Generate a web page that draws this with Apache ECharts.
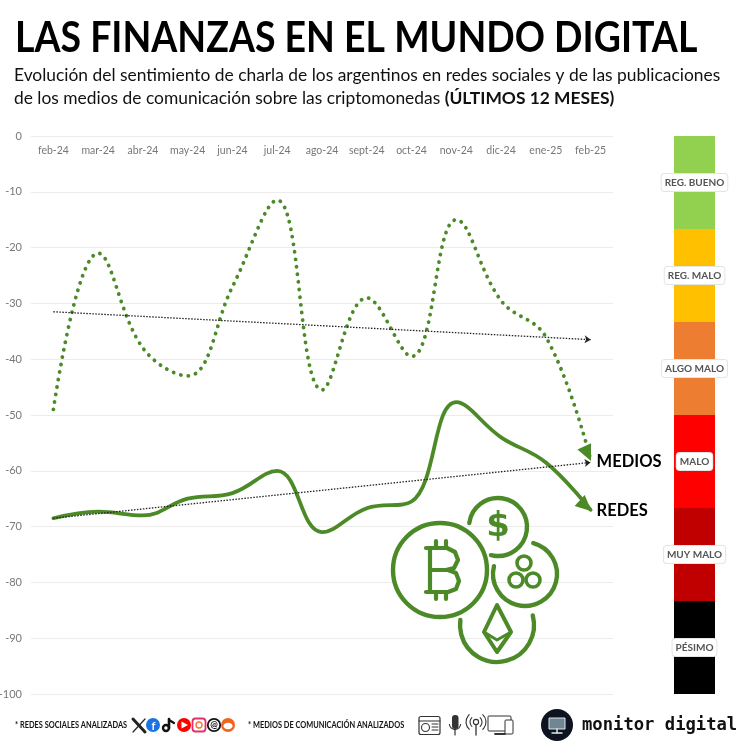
<!DOCTYPE html>
<html><head><meta charset="utf-8">
<style>html,body{margin:0;padding:0;background:#fff}#c{width:750px;height:750px}</style>
<script src="https://cdn.jsdelivr.net/npm/echarts@6/dist/echarts.min.js"></script>
</head><body><div id="c"></div>
<script>
const months = ['feb-24','mar-24','abr-24','may-24','jun-24','jul-24','ago-24','sept-24','oct-24','nov-24','dic-24','ene-25','feb-25'];
const medios = [-49,-21,-38,-43,-27,-11.5,-45.5,-29,-39.5,-15,-29.5,-36,-58];
const redes = [-68.5,-67.3,-68,-65,-64,-60,-71,-66.7,-65.5,-47.7,-54,-58.5,-67];
const trendMedios = [-31.5,-36.5];
const trendRedes = [-68.5,-58.5];
const bandNames = ['REG. BUENO','REG. MALO','ALGO MALO','MALO','MUY MALO','PÉSIMO'];
const bandValues = [-16.67,-16.67,-16.66,-16.67,-16.67,-16.66];
const bandColors = ['#92D050','#FFC000','#ED7D31','#FF0000','#C00000','#000000'];
const G = '#4C8A28', F = 'Lato, "Open Sans", sans-serif';

function pts(vals, arrowRot, off){
  return vals.map((v,i)=> i===vals.length-1
    ? {value:v, symbol:'triangle', symbolSize:[15,16], symbolRotate:arrowRot, symbolOffset:off, itemStyle:{color:G,opacity:1}}
    : {value:v, symbol:'none'});
}
function trend(name, vals){
  return {type:'line', name, silent:true, data:[], markLine:{silent:true, symbol:['none','arrow'], symbolSize:6,
    lineStyle:{color:'#222',type:[1.5,1.5],width:1.3}, label:{show:false},
    data:[[{coord:[months[0],vals[0]]},{coord:[months[12],vals[1]]}]]}};
}
const deg=Math.PI/180;
const ring=(cx,cy,r,s,e)=>({type:'arc',shape:{cx,cy,r,startAngle:s*deg,endAngle:e*deg,clockwise:true},
  style:{stroke:G,lineWidth:4.4,fill:null,lineCap:'round'},z:5});
const stroke=(points,w)=>({type:'polyline',shape:{points},style:{stroke:G,lineWidth:w||4.2,fill:null,lineJoin:'round',lineCap:'round'},z:5});
const txt=(x,y,text,font,fill,sx,align)=>({type:'text',x,y,scaleX:sx||1,style:{x:0,y:0,text,font,fill,align:align||'left',verticalAlign:'middle'}});
const ln=(x1,y1,x2,y2,c,w)=>({type:'line',shape:{x1,y1,x2,y2},style:{stroke:c||'#333',lineWidth:w||1.1,lineCap:'round'}});
const graphics=[
  txt(15,38,'LAS FINANZAS EN EL MUNDO DIGITAL','bold 42px Lato','#000',0.892),
  // coins
  {type:'circle',shape:{cx:440,cy:570,r:47},style:{stroke:G,lineWidth:4.4,fill:'#fff'},z:4},
  ring(498,527,29,188,464),
  ring(525,574,32,-75,194),
  ring(497,625,37,-15,188),
  stroke([[430,548],[430,592]]),
  stroke([[426,548],[447,548],[455,552],[458,560],[454,568],[446,570],[432,570],[448,570],[456,573],[459,581],[456,589],[448,592],[426,592]]),
  stroke([[436,547],[436,541]]),stroke([[446,547],[446,541]]),
  stroke([[436,593],[436,599]]),stroke([[446,593],[446,599]]),
  {type:'text',style:{x:498,y:527,text:'$',font:'bold 34px "DejaVu Sans"',fill:G,align:'center',verticalAlign:'middle'},z:5},
  {type:'circle',shape:{cx:524,cy:563,r:7},style:{stroke:G,lineWidth:3.6,fill:null},z:5},
  {type:'circle',shape:{cx:516,cy:580,r:7},style:{stroke:G,lineWidth:3.6,fill:null},z:5},
  {type:'circle',shape:{cx:533,cy:580,r:7},style:{stroke:G,lineWidth:3.6,fill:null},z:5},
  {type:'polygon',shape:{points:[[497,605],[511,632],[497,652],[484,632]]},style:{stroke:G,lineWidth:4,fill:null,lineJoin:'round'},z:5},
  stroke([[484,632],[497,640],[511,632]],3),
  // footer
  txt(15,725,'* REDES SOCIALES ANALIZADAS','bold 8.6px Lato','#111',0.86),
  txt(248,725,'* MEDIOS DE COMUNICACIÓN ANALIZADOS','bold 8.6px Lato','#111',0.86),
  ln(133,719,145,732,'#222',3),ln(145,719,133,732,'#222',1.2),
  {type:'circle',shape:{cx:153,cy:725,r:7},style:{fill:'#1B74E4'}},
  {type:'text',style:{x:153.5,y:726,text:'f',font:'bold 11px Lato',fill:'#fff',align:'center',verticalAlign:'middle'}},
  {type:'circle',shape:{cx:166,cy:728,r:3},style:{fill:null,stroke:'#111',lineWidth:2.4}},
  ln(169,728,169,719,'#111',2.6),ln(169,720,174,723,'#111',2.2),
  {type:'circle',shape:{cx:184,cy:725,r:7},style:{fill:'#F00'}},
  {type:'polygon',shape:{points:[[181.5,721.5],[181.5,728.5],[188,725]]},style:{fill:'#fff'}},
  {type:'rect',shape:{x:192.5,y:718.5,width:13,height:13,r:3},style:{fill:'#fff',stroke:'#E1306C',lineWidth:1.8}},
  {type:'circle',shape:{cx:199,cy:725,r:3},style:{fill:null,stroke:'#F77737',lineWidth:1.4}},
  {type:'circle',shape:{cx:214,cy:725,r:6.2},style:{fill:'#fff',stroke:'#111',lineWidth:1.8}},
  {type:'text',style:{x:214,y:725.5,text:'@',font:'bold 9px Lato',fill:'#111',align:'center',verticalAlign:'middle'}},
  {type:'circle',shape:{cx:228,cy:725,r:7},style:{fill:'#F0641E'}},
  {type:'ellipse',shape:{cx:228,cy:726,rx:4.6,ry:3.2},style:{fill:'#fff'}},
  // media icons
  {type:'rect',shape:{x:419,y:716.5,width:21,height:18,r:2},style:{fill:'#fff',stroke:'#333',lineWidth:1.2}},
  ln(419,721,440,721),
  {type:'circle',shape:{cx:425.5,cy:727.5,r:4},style:{fill:null,stroke:'#333',lineWidth:1.1}},
  ln(432,724,438,724,'#333',1),ln(432,727,438,727,'#333',1),ln(432,730,438,730,'#333',1),
  {type:'rect',shape:{x:452,y:715,width:6.5,height:14,r:3},style:{fill:'#333'}},
  {type:'arc',shape:{cx:455,cy:724,r:5.6,startAngle:0,endAngle:Math.PI},style:{stroke:'#333',lineWidth:1.1,fill:null}},
  ln(455,730,455,735,'#333',1.2),
  {type:'circle',shape:{cx:476,cy:722,r:2.6},style:{fill:null,stroke:'#333',lineWidth:1.1}},
  {type:'arc',shape:{cx:476,cy:722,r:6,startAngle:-50*deg,endAngle:50*deg,clockwise:true},style:{stroke:'#333',lineWidth:1.1,fill:null}},
  {type:'arc',shape:{cx:476,cy:722,r:6,startAngle:130*deg,endAngle:230*deg,clockwise:true},style:{stroke:'#333',lineWidth:1.1,fill:null}},
  {type:'arc',shape:{cx:476,cy:722,r:10,startAngle:-50*deg,endAngle:50*deg,clockwise:true},style:{stroke:'#333',lineWidth:1.1,fill:null}},
  {type:'arc',shape:{cx:476,cy:722,r:10,startAngle:130*deg,endAngle:230*deg,clockwise:true},style:{stroke:'#333',lineWidth:1.1,fill:null}},
  ln(476,725,476,735,'#333',1.3),
  {type:'rect',shape:{x:488,y:716,width:23,height:15,r:1},style:{fill:'#fff',stroke:'#333',lineWidth:1}},
  {type:'rect',shape:{x:505,y:720,width:8,height:14,r:1},style:{fill:'#fff',stroke:'#333',lineWidth:1}},
  ln(495,734,505,734,'#333',1.8),
  // logo
  {type:'circle',shape:{cx:557,cy:725,r:16},style:{fill:'#0E1320'}},
  {type:'rect',shape:{x:549,y:718,width:16,height:11},style:{fill:'#6E8792',stroke:'#dfe6ea',lineWidth:1}},
  ln(557,729,557,733,'#dfe6ea',1.5),ln(552,733,562,733,'#dfe6ea',1.5),
  txt(582,726,'monitor digital','bold 17.2px "DejaVu Sans Mono"','#111')
];
const chart = echarts.init(document.getElementById('c'));
chart.setOption({
  animation:false, backgroundColor:'#fff',
  title:[
    {text:'Evolución del sentimiento de charla de los argentinos en redes sociales y de las publicaciones\nde los medios de comunicación sobre las criptomonedas {b|(ÚLTIMOS 12 MESES)}',left:14,top:64,padding:0,
     textStyle:{fontFamily:F,fontWeight:'normal',fontSize:17.4,lineHeight:23,color:'#111',rich:{b:{fontFamily:F,fontWeight:'bold',fontSize:17.4,lineHeight:23,color:'#111'}}}}
  ],
  grid:[{left:31,width:582,top:136,height:558,outerBoundsMode:'none'},{left:674,width:41,top:136,height:558,outerBoundsMode:'none'}],
  xAxis:[
    {type:'category',data:months,position:'top',boundaryGap:true,gridIndex:0,axisLine:{show:false},axisTick:{show:false},
     axisLabel:{inside:true,color:'#777',fontSize:10.5,fontFamily:F,margin:9,interval:0}},
    {type:'category',data:['x'],gridIndex:1,show:false}
  ],
  yAxis:[
    {type:'value',min:-100,max:0,interval:10,gridIndex:0,axisLine:{show:false},axisTick:{show:false},
     splitLine:{lineStyle:{color:'#ececec',width:1}},axisLabel:{color:'#777',fontSize:11,fontFamily:F,margin:9}},
    {type:'value',min:-100,max:0,gridIndex:1,show:false}
  ],
  graphic:graphics,
  series:[
    {type:'line',name:'MEDIOS',smooth:0.4,smoothConstraint:false,data:pts(medios,205,[-3,-6]),showSymbol:true,
     lineStyle:{color:G,width:3.8,type:[0.1,7.5],cap:'round'},
     endLabel:{show:true,formatter:'MEDIOS',color:'#000',fontFamily:F,fontWeight:'bold',fontSize:16.5,offset:[-2,2]},z:3},
    {type:'line',name:'REDES',smooth:0.4,smoothConstraint:false,data:pts(redes,228,[-5,-4]),showSymbol:true,
     lineStyle:{color:G,width:3.8,cap:'round'},
     endLabel:{show:true,formatter:'REDES',color:'#000',fontFamily:F,fontWeight:'bold',fontSize:16.5,offset:[-2,1]},z:3},
    trend('tendencia medios',trendMedios),
    trend('tendencia redes',trendRedes),
    ...bandNames.map((n,i)=>({type:'bar',name:n,xAxisIndex:1,yAxisIndex:1,stack:'band',barWidth:'100%',
      data:[bandValues[i]],itemStyle:{color:bandColors[i]},
      label:{show:true,position:'inside',formatter:n,color:'#555',fontFamily:F,fontWeight:'bold',fontSize:10,
        backgroundColor:'#fff',borderColor:'#e4e4e4',borderWidth:1,borderRadius:3,padding:[4,3,3,3]}}))
  ]
});
</script></body></html>
